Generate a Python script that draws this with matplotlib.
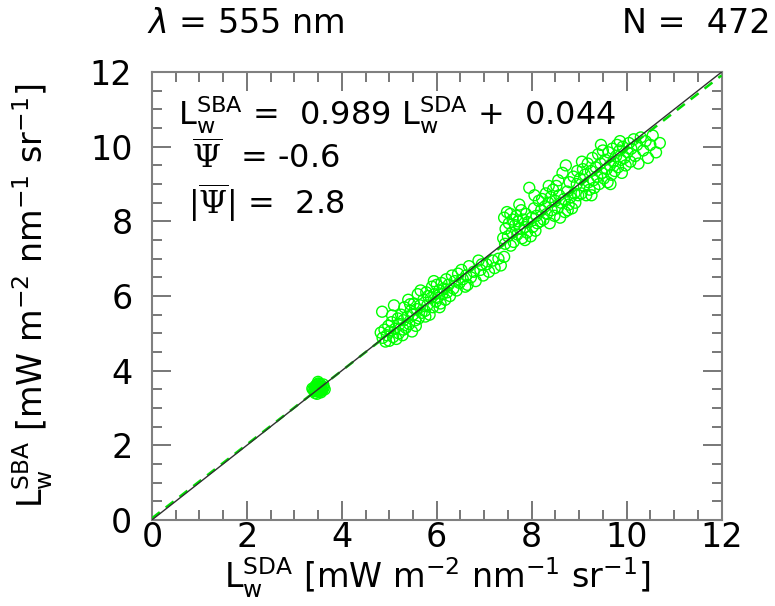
import numpy as np
import matplotlib
matplotlib.use("Agg")
import matplotlib.pyplot as plt
from matplotlib.ticker import MultipleLocator

# match-up values (SDA on x, SBA on y)
x_low = [3.42, 3.45, 3.48, 3.50, 3.52, 3.55, 3.58, 3.60, 3.44, 3.47, 3.51, 3.54, 3.57, 3.49, 3.53,
         3.46, 3.56, 3.40, 3.62, 3.50, 3.43, 3.59, 3.48, 3.52, 3.55, 3.45, 3.61, 3.38, 3.64, 3.50]
y_low = [3.46, 3.52, 3.58, 3.44, 3.55, 3.62, 3.50, 3.57, 3.40, 3.48, 3.66, 3.45, 3.60, 3.53, 3.49,
         3.61, 3.42, 3.50, 3.55, 3.70, 3.56, 3.47, 3.38, 3.64, 3.53, 3.45, 3.63, 3.52, 3.50, 3.58]

x_mid = [4.82, 4.86, 4.90, 4.85, 4.95, 4.98, 5.00, 5.02, 5.05, 5.08, 5.10, 5.12, 5.15, 5.18, 5.20,
         5.22, 4.92, 5.06,
         5.25, 5.28, 5.30, 5.32, 5.35, 5.38, 5.40, 5.42, 5.45, 5.48, 5.50, 5.52, 5.55, 5.58, 5.60,
         5.62, 5.65, 5.68, 5.30, 5.44, 5.56, 5.66,
         5.72, 5.75, 5.78, 5.80, 5.82, 5.85, 5.88, 5.90, 5.92, 5.95, 5.98, 6.00, 6.02, 6.05, 6.08,
         6.10, 6.12, 6.15, 6.18, 6.20, 6.22, 6.25, 6.28, 5.76, 5.94, 6.06,
         6.32, 6.35, 6.38, 6.42, 6.45, 6.48, 6.52, 6.55, 6.60, 6.62, 6.68, 6.72, 6.78, 6.82, 6.88,
         6.92, 6.98, 7.05, 7.10, 7.18, 7.22, 7.30, 7.35, 7.42, 6.65, 6.95]
y_mid = [5.02, 4.88, 5.10, 5.58, 4.95, 5.20, 4.80, 5.05, 5.30, 4.90, 5.75, 5.12, 4.85, 5.40, 5.00,
         5.25, 4.78, 5.48,
         5.50, 4.95, 5.35, 5.70, 5.15, 5.45, 5.90, 5.25, 5.60, 5.05, 5.50, 5.80, 5.35, 5.65, 6.05,
         5.40, 5.75, 5.55, 5.10, 5.78, 5.20, 6.15,
         5.90, 5.60, 6.10, 5.75, 6.00, 5.50, 5.95, 6.25, 5.70, 6.05, 5.85, 6.30, 5.95, 6.15, 5.80,
         6.35, 6.05, 6.20, 5.90, 6.45, 6.10, 6.30, 6.00, 5.45, 6.40, 5.70,
         6.55, 6.20, 6.40, 6.15, 6.60, 6.35, 6.70, 6.45, 6.25, 6.55, 6.80, 6.50, 6.65, 6.40, 6.95,
         6.70, 6.55, 6.85, 6.65, 6.95, 6.75, 7.00, 6.82, 7.05, 6.30, 6.85]

x_high = [7.40, 7.42, 7.45, 7.48, 7.50, 7.52, 7.55, 7.58, 7.60, 7.62, 7.65, 7.68, 7.70, 7.72, 7.75,
          7.78, 7.80, 7.82, 7.85, 7.88, 7.90, 7.92, 7.95, 7.98, 8.00, 8.02, 8.05, 8.08, 8.10, 8.12,
          8.15, 8.18, 8.20, 7.56, 7.74, 7.86, 8.06, 7.44,
          8.22, 8.25, 8.28, 8.30, 8.32, 8.35, 8.38, 8.40, 8.42, 8.45, 8.48, 8.50, 8.52, 8.55, 8.58,
          8.60, 8.62, 8.65, 8.68, 8.70, 8.72, 8.75, 8.78, 8.80, 8.82, 8.85, 8.88, 8.90, 8.92, 8.95,
          8.98, 8.36, 8.56, 8.76, 8.96,
          9.02, 9.05, 9.08, 9.10, 9.12, 9.15, 9.18, 9.20, 9.22, 9.25, 9.28, 9.30, 9.32, 9.35, 9.38,
          9.40, 9.42, 9.45, 9.48, 9.50, 9.52, 9.55, 9.58, 9.60, 9.62, 9.65, 9.68, 9.70, 9.72, 9.75,
          9.78, 9.80, 9.82, 9.85, 9.88, 9.90, 9.92, 9.95, 9.98, 9.06, 9.26, 9.46, 9.66, 9.86,
          10.02, 10.05, 10.08, 10.10, 10.15, 10.18, 10.22, 10.25, 10.30, 10.35, 10.40, 10.45, 10.50,
          10.55, 10.62, 10.70]
y_high = [7.55, 8.10, 7.80, 8.25, 7.60, 7.95, 8.20, 7.70, 8.05, 7.45, 7.90, 8.15, 7.65, 8.00, 7.80,
          8.30, 7.55, 8.05, 7.85, 8.20, 7.70, 7.98, 8.90, 7.60, 8.10, 7.85, 8.35, 7.75, 8.15, 7.95,
          8.55, 8.00, 8.30, 7.35, 8.45, 7.50, 8.70, 7.40,
          8.60, 8.05, 8.40, 8.75, 8.20, 8.50, 7.95, 8.65, 8.30, 8.85, 8.15, 8.55, 8.95, 8.35, 8.70,
          8.10, 8.50, 9.30, 8.60, 8.25, 9.50, 8.80, 8.45, 9.05, 8.65, 8.35, 9.20, 8.75, 8.50, 9.00,
          8.70, 8.95, 9.10, 8.30, 9.35,
          9.15, 8.75, 9.40, 8.95, 9.25, 8.70, 9.55, 9.05, 8.85, 9.35, 9.70, 9.10, 8.90, 9.45, 9.20,
          9.80, 9.00, 9.55, 9.30, 9.90, 9.15, 9.65, 9.40, 9.05, 9.85, 9.50, 9.25, 9.95, 9.60, 9.35,
          9.75, 10.05, 9.45, 9.90, 9.65, 9.30, 10.00, 9.70, 9.50, 9.60, 8.70, 10.05, 9.00, 10.15,
          9.85, 10.10, 9.60, 9.95, 10.20, 9.75, 10.05, 9.55, 10.25, 9.90, 10.15, 9.70, 10.05,
          10.30, 9.85, 10.10]

slope = 0.989
offset = 0.044
wavelength = 555
n_points = 472
mean_psi = -0.6
mean_abs_psi = 2.8
axis_max = 12

x_all = x_low + x_mid + x_high
y_all = y_low + y_mid + y_high

fig = plt.figure(figsize=(7.75, 6.06), dpi=100)
ax = fig.add_axes([0.196, 0.142, 0.735, 0.739])

ax.scatter(x_all, y_all, s=62, facecolors="none", edgecolors="#00ff00", linewidths=1.0, zorder=2)

line_x = np.array([0, axis_max])
ax.plot(line_x, slope * line_x + offset, color="#00e000", lw=1.8, ls=(0, (4, 3)), zorder=3)
ax.plot(line_x, line_x, color="#303030", lw=1.0, zorder=4)

ax.set_xlim(0, axis_max)
ax.set_ylim(0, axis_max)
ax.xaxis.set_major_locator(MultipleLocator(2))
ax.yaxis.set_major_locator(MultipleLocator(2))
ax.xaxis.set_minor_locator(MultipleLocator(0.5))
ax.yaxis.set_minor_locator(MultipleLocator(0.5))
ax.tick_params(which="both", direction="in", top=True, right=True, color="#606060", width=1.2)
ax.tick_params(which="major", length=14, labelsize=24)
ax.tick_params(which="minor", length=7)
ax.tick_params(axis="x", which="major", pad=1)
ax.tick_params(axis="y", which="major", pad=14)
for sp in ax.spines.values():
    sp.set_color("#808080")
    sp.set_linewidth(1.5)

ax.set_xlabel(r"$\mathregular{L_w^{SDA}}$ [mW m$^{-2}$ nm$^{-1}$ sr$^{-1}$]", fontsize=24)
ax.set_ylabel(r"$\mathregular{L_w^{SBA}}$ [mW m$^{-2}$ nm$^{-1}$ sr$^{-1}$]", fontsize=24)
ax.xaxis.set_label_coords(0.5, -0.08)
ax.yaxis.set_label_coords(-0.17, 0.5)

ax.text(0.045, 0.904, r"$\mathregular{L_w^{SBA}}$ =  %.3f $\mathregular{L_w^{SDA}}$ +  %.3f" % (slope, offset),
        transform=ax.transAxes, fontsize=23, va="center")
ax.text(0.07, 0.808, r"$\overline{\Psi}$  = %.1f" % mean_psi, transform=ax.transAxes, fontsize=23,
        va="center", math_fontfamily="dejavuserif")
ax.text(0.063, 0.708, r"|$\overline{\Psi}$| =  %.1f" % mean_abs_psi, transform=ax.transAxes, fontsize=23,
        va="center", math_fontfamily="dejavuserif")

fig.text(0.19, 0.962, r"$\lambda$ = %d nm" % wavelength, fontsize=24, va="center")
fig.text(0.995, 0.962, "N =  %d" % n_points, fontsize=24, va="center", ha="right")

fig.savefig("out.png", dpi=100)
